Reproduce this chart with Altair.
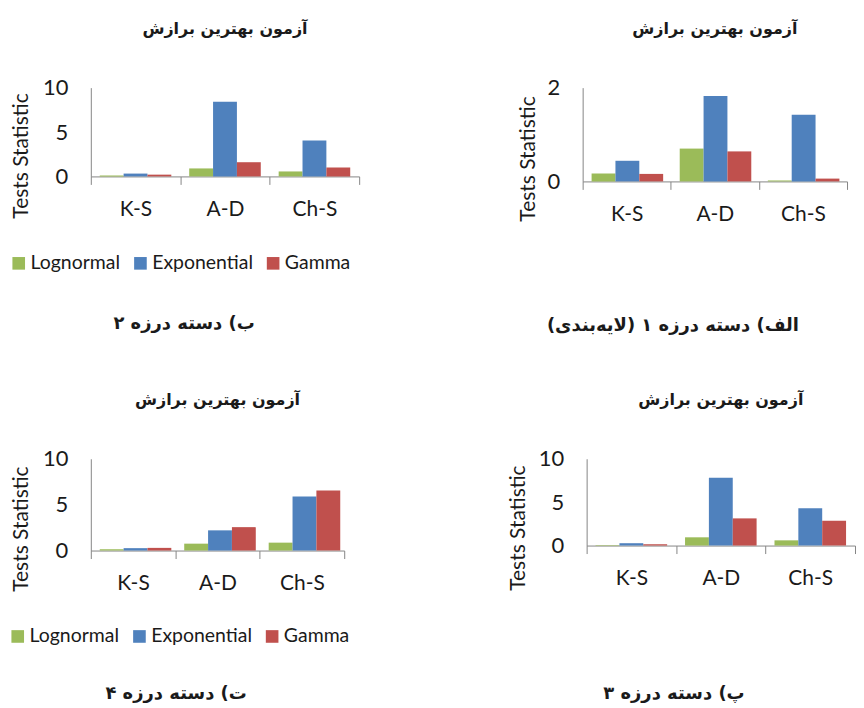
import altair as alt
import pandas as pd

tests = ["K-S", "A-D", "Ch-S"]
dists = ["Lognormal", "Exponential", "Gamma"]
colors = ["#9BBB59", "#4F81BD", "#C0504D"]

top_title = "آزمون بهترین برازش"
y_title = "Tests Statistic"

# panel الف (top right)
alef_logn = [0.17, 0.70, 0.02]
alef_expo = [0.44, 1.82, 1.42]
alef_gamma = [0.16, 0.64, 0.06]
alef_caption = "الف) دسته درزه ۱ (لایه‌بندی)\u200f"

# panel ب (top left)
be_logn = [0.10, 0.90, 0.56]
be_expo = [0.32, 8.40, 4.05]
be_gamma = [0.20, 1.60, 1.00]
be_caption = "ب) دسته درزه ۲"

# panel پ (bottom right)
pe_logn = [0.06, 0.95, 0.60]
pe_expo = [0.27, 7.80, 4.30]
pe_gamma = [0.15, 3.13, 2.86]
pe_caption = "پ) دسته درزه ۳"

# panel ت (bottom left)
te_logn = [0.15, 0.75, 0.86]
te_expo = [0.26, 2.20, 5.90]
te_gamma = [0.29, 2.55, 6.55]
te_caption = "ت) دسته درزه ۴"

LAT = "Lato"
FA = "DejaVu Sans"
AX = "#868686"
TXT = "#1a1a1a"


def panel(logn, expo, gamma, ymax, yticks, caption, w, h,
          leg_x, leg_y, ytx, yty, cap_x, cap_y):
    rows = []
    for d, vals in zip(dists, [logn, expo, gamma]):
        for t, v in zip(tests, vals):
            rows.append({"test": t, "dist": d, "value": v})
    df = pd.DataFrame(rows)
    return alt.Chart(df).mark_bar().encode(
        x=alt.X("test:N", sort=tests,
                scale=alt.Scale(paddingInner=0, paddingOuter=0),
                axis=alt.Axis(title=caption, labelAngle=0, labelFont=LAT,
                              labelFontSize=21, labelColor=TXT,
                              tickBand="extent", tickSize=8, tickColor=AX,
                              domainColor=AX, labelPadding=14,
                              titleFont=FA, titleFontSize=18,
                              titleFontWeight="bold", titleColor=TXT,
                              titleX=cap_x, titleY=cap_y,
                              titleBaseline="middle", titleAlign="center")),
        xOffset=alt.XOffset("dist:N", sort=dists,
                            scale=alt.Scale(paddingInner=0, paddingOuter=0.375)),
        y=alt.Y("value:Q", scale=alt.Scale(domain=[0, ymax], nice=False),
                axis=alt.Axis(values=yticks, format="d", title=y_title,
                              grid=False, ticks=False, domainColor=AX,
                              labelFont=LAT, labelFontSize=22,
                              labelColor=TXT, labelPadding=23,
                              titleFont=LAT, titleFontSize=21,
                              titleFontWeight="normal", titleColor=TXT,
                              titleX=ytx, titleY=yty,
                              titleBaseline="middle", titleAngle=270)),
        color=alt.Color("dist:N", sort=dists,
                        scale=alt.Scale(domain=dists, range=colors),
                        legend=alt.Legend(orient="none", legendX=leg_x,
                                          legendY=leg_y, padding=0,
                                          direction="horizontal", title=None,
                                          symbolType="square", symbolSize=160,
                                          symbolStrokeWidth=0,
                                          labelFont=LAT, labelFontSize=19.5,
                                          labelColor=TXT, columnPadding=10,
                                          labelOffset=2)),
    ).properties(
        width=w, height=h,
        title=alt.TitleParams(top_title, font=FA, fontSize=16,
                              fontWeight="bold", color=TXT,
                              anchor="middle", frame="group", offset=40),
    )


p_be = panel(be_logn, be_expo, be_gamma, 10, [0, 5, 10], be_caption,
             269, 89, -82, 166, -69, 68, 93, 147)
p_alef = panel(alef_logn, alef_expo, alef_gamma, 2, [0, 1, 2], alef_caption,
               265, 94, -73, 167, -54, 71, 90, 144)
p_te = panel(te_logn, te_expo, te_gamma, 10, [0, 5, 10], te_caption,
             254, 92, -83, 168, -69, 70, 85, 143)
p_pe = panel(pe_logn, pe_expo, pe_gamma, 10, [0, 5, 10], pe_caption,
             269, 87, -80, 168, -68, 69, 87, 148)

row1 = alt.hconcat(p_be, p_alef, spacing=158)
row2 = alt.hconcat(p_te, p_pe, spacing=163)

chart = alt.vconcat(row1, row2, spacing=58).resolve_scale(
    color="independent"
).properties(padding={"left": 0, "top": 12, "right": 0, "bottom": 0}
).configure_view(stroke=None)

chart.save("out.html", embed_options={"renderer": "svg", "actions": False})
